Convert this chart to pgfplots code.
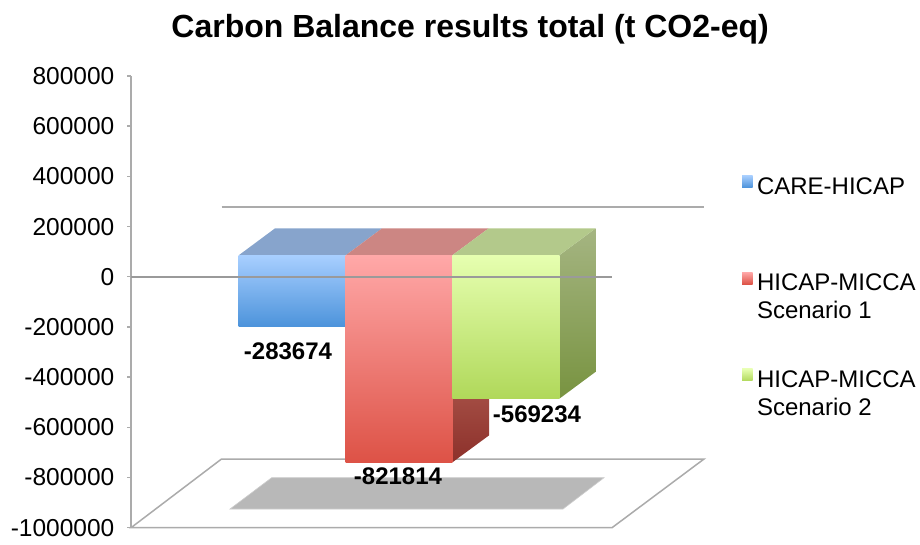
\documentclass[border=0pt]{standalone}
\usepackage{pgfplots}
\pgfplotsset{compat=1.18}
\usepackage{fontspec}
\setmainfont{Liberation Sans}
\definecolor{axisgrey}{HTML}{ABABAB}
\definecolor{zerogrey}{HTML}{9A9A9A}
\definecolor{shadowgrey}{HTML}{B8B8B8}
\definecolor{bluetop}{HTML}{A8CFFF}
\definecolor{bluebot}{HTML}{4C93DB}
\definecolor{redtop}{HTML}{FFA8A8}
\definecolor{redbot}{HTML}{DD5246}
\definecolor{greentop}{HTML}{E6FFB0}
\definecolor{greenbot}{HTML}{B0D85A}
\definecolor{bluelid}{HTML}{87A4CC}
\definecolor{redlid}{HTML}{CC8683}
\definecolor{greenlid}{HTML}{B3C98B}
\definecolor{greensidetop}{HTML}{A5B582}
\definecolor{greensidebot}{HTML}{789340}
\definecolor{redsidetop}{HTML}{A24B42}
\definecolor{redsidebot}{HTML}{8C302A}
\newcommand{\lab}{\fontsize{24.5}{26.7}\selectfont}
\newcommand{\leglab}{\fontsize{24}{26.7}\selectfont}
\newcommand{\blab}{\fontsize{24}{26}\selectfont\bfseries}
\pgfplotsset{
  pagebox/.style={hide axis, scale only axis, width=920pt, height=544pt,
    at={(0pt,0pt)}, anchor=south west, xmin=0, xmax=920, clip=false},
  swatch/.style n args={2}{legend image code/.code={
    \path[top color=#1, bottom color=#2] (0pt,13pt) rectangle (10.5pt,25pt);}},
}
\begin{document}
\begin{tikzpicture}
\useasboundingbox (0pt,0pt) rectangle (920pt,544pt);
% floor, back line and shadow, in picture coordinates
\begin{axis}[pagebox, y dir=reverse, ymin=0, ymax=544,
  title={\fontsize{32}{36}\selectfont\bfseries Carbon Balance results total (t CO2-eq)},
  title style={at={(0.511,0.9356)}, anchor=center, inner sep=0pt}]
\addplot[draw=axisgrey, line width=1.5pt, fill=white] coordinates {(131,527.7)(221.5,459)(704,459)(612,527.7)} -- cycle;
\addplot[draw=axisgrey, line width=1.6pt] coordinates {(221.5,207)(704,207)};
\addplot[fill=shadowgrey, draw=shadowgrey!70, line width=0.6pt] coordinates {(230,509)(271.7,477.7)(604,477.7)(563,509)} -- cycle;
\end{axis}
% bars: y in data values, with the bars' zero at the front plane; depth = 107143 units, 36.4 x-units
\begin{axis}[pagebox, ymin=-1145635, ymax=1013095,
  legend style={at={(742/920,1-175.5/544)}, anchor=north west, draw=none, fill=none,
    inner sep=0pt, outer sep=0pt, row sep=48.5pt, column sep=4.5pt,
    cells={align=left, anchor=base west}, font=\leglab, /tikz/every node/.append style={inner sep=0pt}},
  legend cell align=left]
% right side of red bar
\addplot[draw=none, top color=redsidetop, bottom color=redsidebot, forget plot]
  coordinates {(452.3,-569234)(489,-569234)(489,-714671)(452.3,-821814)} -- cycle;
% right side of green bar
\addplot[draw=none, top color=greensidetop, bottom color=greensidebot, forget plot]
  coordinates {(559.3,0)(595.7,107143)(595.7,-462091)(559.3,-569234)} -- cycle;
% lids
\addplot[draw=none, fill=bluelid, forget plot] coordinates {(238.7,0)(275.1,107143)(382.1,107143)(345.7,0)} -- cycle;
\addplot[draw=none, fill=redlid, forget plot] coordinates {(345.7,0)(382.1,107143)(488.7,107143)(452.3,0)} -- cycle;
\addplot[draw=none, fill=greenlid, forget plot] coordinates {(452.3,0)(488.7,107143)(595.7,107143)(559.3,0)} -- cycle;
% front faces
\addplot[draw=none, top color=bluetop, bottom color=bluebot, swatch={bluetop}{bluebot}]
  coordinates {(238.7,0)(345.7,0)(345.7,-283674)(238.7,-283674)} -- cycle;
\addlegendentry{CARE-HICAP\\[1.5pt] \strut}
\addplot[draw=none, top color=redtop, bottom color=redbot, swatch={redtop}{redbot}]
  coordinates {(345.7,0)(452.3,0)(452.3,-821814)(345.7,-821814)} -- cycle;
\addlegendentry{HICAP-MICCA\\[1.5pt]Scenario 1\strut}
\addplot[draw=none, top color=greentop, bottom color=greenbot, swatch={greentop}{greenbot}]
  coordinates {(452.3,0)(559.3,0)(559.3,-569234)(452.3,-569234)} -- cycle;
\addlegendentry{HICAP-MICCA\\[1.5pt]Scenario 2\strut}
\node[font=\blab, inner sep=0pt] at (axis cs:288,-379000) {-283674};
\node[font=\blab, inner sep=0pt] at (axis cs:398,-877000) {-821814};
\node[font=\blab, inner sep=0pt] at (axis cs:537,-629000) {-569234};
\end{axis}
% value axis and zero line, drawn last as in the reference
\begin{axis}[scale only axis, width=481pt, height=451.7pt,
  at={(131pt,16.3pt)}, anchor=south west,
  xmin=131, xmax=612, ymin=-1000000, ymax=800000,
  axis x line=none, axis y line=left, y axis line style={-, draw=axisgrey, line width=1.8pt},
  ytick={-1000000,-800000,...,800000},
  major tick style={draw=axisgrey, line width=1.4pt},
  tick align=outside, major tick length=4pt,
  scaled y ticks=false,
  yticklabel style={font=\lab, /pgf/number format/assume math mode=true,
    /pgf/number format/fixed, /pgf/number format/1000 sep={}, /pgf/number format/precision=0,
    inner sep=0pt, xshift=-12.5pt},
  clip=false]
\addplot[draw=zerogrey, line width=2pt] coordinates {(131,0)(612,0)};
\end{axis}
\end{tikzpicture}
\end{document}
